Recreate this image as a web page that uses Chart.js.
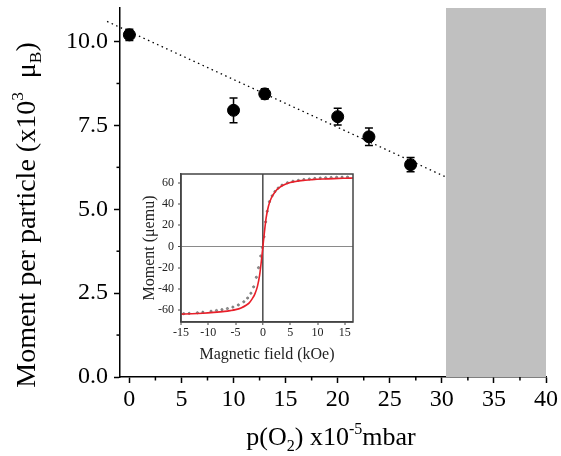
<!DOCTYPE html>
<html>
<head>
<meta charset="utf-8">
<script src="https://cdn.jsdelivr.net/npm/chart.js@4/dist/chart.umd.min.js"></script>
<style>
  html, body { margin: 0; padding: 0; background: #fff; }
  #wrap { position: relative; width: 561px; height: 456px; }
  #main { position: absolute; left: 0; top: 0; }
  #inset { position: absolute; left: 140px; top: 165px; }
</style>
</head>
<body>
<div id="wrap">
  <canvas id="main" width="561" height="456"></canvas>
  <canvas id="inset" width="220" height="200"></canvas>
</div>
<script>
// ---------- main chart data ----------
const pressure = [0, 10, 13, 20, 23, 27];                 // p(O2) x10^-5 mbar
const momentPerParticle = [10.2, 7.95, 8.44, 7.76, 7.16, 6.33]; // x10^3 muB
const momentError = [0.17, 0.37, 0.15, 0.25, 0.26, 0.21];
const fitX = [-2.14, 30.4];
const fitY = [10.6, 5.96];
const shadedRange = [30.4, 40];
const xMinorTicks = [2.5, 7.5, 12.5, 17.5, 22.5, 27.5, 32.5, 37.5];
const yMinorTicks = [1.25, 3.75, 6.25, 8.75];

// ---------- inset data ----------
const fieldFit = [-15, -13, -11, -9, -7, -6, -5, -4, -3, -2.5, -2, -1.5, -1, -0.6, -0.3, 0, 0.3, 0.6, 1, 1.5, 2, 2.5, 3, 4, 5, 6, 7, 9, 11, 13, 15, 16.5];
const momentFit = [-63.6, -63.3, -62.8, -62, -61, -60.3, -59.4, -57.8, -55, -53, -49.5, -45, -37.5, -27, -14.5, 0, 14.5, 27, 37.5, 45, 49.5, 53, 55.3, 58.2, 60, 61, 61.8, 62.7, 63.3, 63.7, 64, 64.2];
const fieldData = [-14.5, -13.5, -12, -11, -9.5, -8.5, -7.5, -6.5, -5.5, -4.5, -3.5, -2.8, -2.2, -1.7, -1.2, -0.8, -0.4, -0.1, 0.2, 0.5, 0.8, 1.2, 1.7, 2.2, 2.8, 3.5, 4.5, 5.5, 6.5, 7.5, 8.5, 9.5, 10.5, 11.5, 12.5, 13.5, 14.5, 15.5];
const momentData = [-63.2, -62.9, -62.3, -61.8, -60.9, -60.2, -59.4, -58.4, -57, -55, -52, -48.5, -44, -38, -29, -20, -9, -1, 9, 23, 33, 42, 47.5, 51.5, 54.8, 57.5, 59.8, 61.2, 62, 62.8, 63.3, 63.8, 64.2, 64.5, 64.7, 64.9, 65, 65.1];

// ---------- titles (rich text segments: v=1 superscript, v=-1 subscript) ----------
const yTitleSegs = [{t: 'Moment per particle (x10'}, {t: '3', v: 1}, {t: '  \u03bc'}, {t: 'B', v: -1}, {t: ')'}];
const xTitleSegs = [{t: 'p(O'}, {t: '2', v: -1}, {t: ') x10'}, {t: '-5', v: 1}, {t: 'mbar'}];
const insetXTitle = [{t: 'Magnetic field (kOe)'}];
const insetYTitle = [{t: 'Moment (\u03bcemu)'}];

const SERIF = '"Liberation Serif", "Times New Roman", "DejaVu Serif", serif';

function drawRich(ctx, segs, x, y, size, rotate, color) {
  ctx.save();
  ctx.translate(x, y);
  if (rotate) ctx.rotate(-Math.PI / 2);
  ctx.fillStyle = color;
  ctx.textBaseline = 'alphabetic';
  ctx.textAlign = 'left';
  let total = 0;
  const items = segs.map(s => {
    const fs = s.v ? size * 0.62 : size;
    ctx.font = fs + 'px ' + SERIF;
    const w = ctx.measureText(s.t).width;
    total += w;
    return {t: s.t, fs, w, dy: s.v === 1 ? -size * 0.42 : (s.v === -1 ? size * 0.22 : 0)};
  });
  let cx = -total / 2;
  items.forEach(it => {
    ctx.font = it.fs + 'px ' + SERIF;
    ctx.fillText(it.t, cx, it.dy);
    cx += it.w;
  });
  ctx.restore();
}

// ---------- main chart plugins ----------
const mainDecor = {
  id: 'mainDecor',
  beforeDatasetsDraw(chart) {
    const {ctx, chartArea, scales: {x, y}} = chart;
    ctx.save();
    const x0 = x.getPixelForValue(shadedRange[0]);
    const x1 = x.getPixelForValue(shadedRange[1]);
    ctx.fillStyle = '#c0c0c0';
    ctx.fillRect(x0, chartArea.top, x1 - x0, chartArea.bottom - chartArea.top);
    ctx.strokeStyle = '#000';
    ctx.lineWidth = 1.5;
    pressure.forEach((p, i) => {
      const px = x.getPixelForValue(p);
      const top = y.getPixelForValue(momentPerParticle[i] + momentError[i]);
      const bot = y.getPixelForValue(momentPerParticle[i] - momentError[i]);
      ctx.beginPath();
      ctx.moveTo(px, top); ctx.lineTo(px, bot);
      ctx.moveTo(px - 4, top); ctx.lineTo(px + 4, top);
      ctx.moveTo(px - 4, bot); ctx.lineTo(px + 4, bot);
      ctx.stroke();
    });
    ctx.restore();
  },
  afterDraw(chart) {
    const {ctx, chartArea, scales: {x, y}} = chart;
    ctx.save();
    ctx.strokeStyle = '#000';
    ctx.lineWidth = 1.5;
    xMinorTicks.forEach(v => {
      const px = x.getPixelForValue(v);
      ctx.beginPath(); ctx.moveTo(px, chartArea.bottom); ctx.lineTo(px, chartArea.bottom + 3.5); ctx.stroke();
    });
    yMinorTicks.forEach(v => {
      const py = y.getPixelForValue(v);
      ctx.beginPath(); ctx.moveTo(chartArea.left, py); ctx.lineTo(chartArea.left - 3.5, py); ctx.stroke();
    });
    ctx.restore();
    drawRich(ctx, yTitleSegs, 35, 215, 28, true, '#000');
    drawRich(ctx, xTitleSegs, 331, 445, 26, false, '#000');
  }
};

new Chart(document.getElementById('main'), {
  type: 'scatter',
  data: {
    datasets: [
      {
        label: 'Moment per particle',
        data: pressure.map((p, i) => ({x: p, y: momentPerParticle[i]})),
        backgroundColor: '#000',
        borderColor: '#000',
        pointRadius: 6,
        pointHoverRadius: 6,
        order: 1
      },
      {
        label: 'Linear fit',
        type: 'line',
        data: fitX.map((v, i) => ({x: v, y: fitY[i]})),
        borderColor: '#000',
        borderWidth: 1.3,
        borderDash: [1.5, 3.5],
        pointRadius: 0,
        fill: false,
        clip: false,
        order: 2
      }
    ]
  },
  options: {
    responsive: false,
    animation: false,
    devicePixelRatio: 1,
    layout: {padding: {top: 8, right: 15, left: 0, bottom: 0}},
    plugins: {legend: {display: false}, tooltip: {enabled: false}},
    scales: {
      x: {
        type: 'linear',
        min: -0.9,
        max: 40,
        ticks: {stepSize: 5, includeBounds: false, color: '#000', font: {family: SERIF, size: 24}, padding: 2, maxRotation: 0},
        grid: {drawOnChartArea: false, tickLength: 6, tickColor: '#000', tickWidth: 1.5},
        border: {color: '#000', width: 1.5},
        afterFit: s => { s.height = 79; s.paddingLeft = 0; s.paddingRight = 0; }
      },
      y: {
        type: 'linear',
        min: 0,
        max: 11,
        ticks: {stepSize: 2.5, includeBounds: false, color: '#000', font: {family: SERIF, size: 24}, padding: 6,
          callback: v => v.toFixed(1)},
        grid: {drawOnChartArea: false, tickLength: 6, tickColor: '#000', tickWidth: 1.5},
        border: {color: '#000', width: 1.5},
        afterFit: s => { s.width = 120; s.paddingTop = 0; s.paddingBottom = 0; }
      }
    }
  },
  plugins: [mainDecor]
});

// ---------- inset ----------
const insetDecor = {
  id: 'insetDecor',
  afterDraw(chart) {
    const {ctx, chartArea} = chart;
    ctx.save();
    ctx.strokeStyle = '#444';
    ctx.lineWidth = 1.5;
    ctx.strokeRect(chartArea.left, chartArea.top, chartArea.right - chartArea.left, chartArea.bottom - chartArea.top);
    ctx.restore();
    drawRich(ctx, insetXTitle, (chartArea.left + chartArea.right) / 2, 194, 16, false, '#222');
    drawRich(ctx, insetYTitle, 14, (chartArea.top + chartArea.bottom) / 2, 16, true, '#222');
  }
};

new Chart(document.getElementById('inset'), {
  type: 'scatter',
  data: {
    datasets: [
      {
        label: 'Fit',
        type: 'line',
        data: fieldFit.map((f, i) => ({x: f, y: momentFit[i]})),
        borderColor: '#e8202a',
        borderWidth: 1.6,
        pointRadius: 0,
        cubicInterpolationMode: 'monotone',
        fill: false,
        order: 1
      },
      {
        label: 'Data',
        data: fieldData.map((f, i) => ({x: f, y: momentData[i]})),
        backgroundColor: 'rgba(100,100,100,0.7)',
        borderColor: 'rgba(100,100,100,0.7)',
        pointRadius: 1.1,
        order: 2
      }
    ]
  },
  options: {
    responsive: false,
    animation: false,
    devicePixelRatio: 1,
    layout: {padding: {top: 9, right: 7, left: 0, bottom: 0}},
    plugins: {legend: {display: false}, tooltip: {enabled: false}},
    scales: {
      x: {
        type: 'linear',
        min: -15,
        max: 16.5,
        ticks: {stepSize: 5, includeBounds: false, color: '#222', font: {family: SERIF, size: 12}, padding: 1, maxRotation: 0},
        grid: {
          drawOnChartArea: true, tickLength: 3, tickWidth: 1, tickColor: '#444',
          color: c => (c.tick && c.tick.value === 0) ? '#555' : 'rgba(0,0,0,0)',
          lineWidth: c => (c.tick && c.tick.value === 0) ? 1.6 : 0
        },
        border: {color: '#444', width: 1.5},
        afterFit: s => { s.height = 43; s.paddingLeft = 0; s.paddingRight = 0; }
      },
      y: {
        type: 'linear',
        min: -71,
        max: 68,
        ticks: {stepSize: 20, includeBounds: false, color: '#222', font: {family: SERIF, size: 12}, padding: 4},
        grid: {
          drawOnChartArea: true, tickLength: 3, tickWidth: 1, tickColor: '#444',
          color: c => (c.tick && c.tick.value === 0) ? '#8a8a8a' : 'rgba(0,0,0,0)',
          lineWidth: c => (c.tick && c.tick.value === 0) ? 1 : 0
        },
        border: {color: '#444', width: 1.5},
        afterFit: s => { s.width = 41; s.paddingTop = 0; s.paddingBottom = 0; }
      }
    }
  },
  plugins: [insetDecor]
});
</script>
</body>
</html>
